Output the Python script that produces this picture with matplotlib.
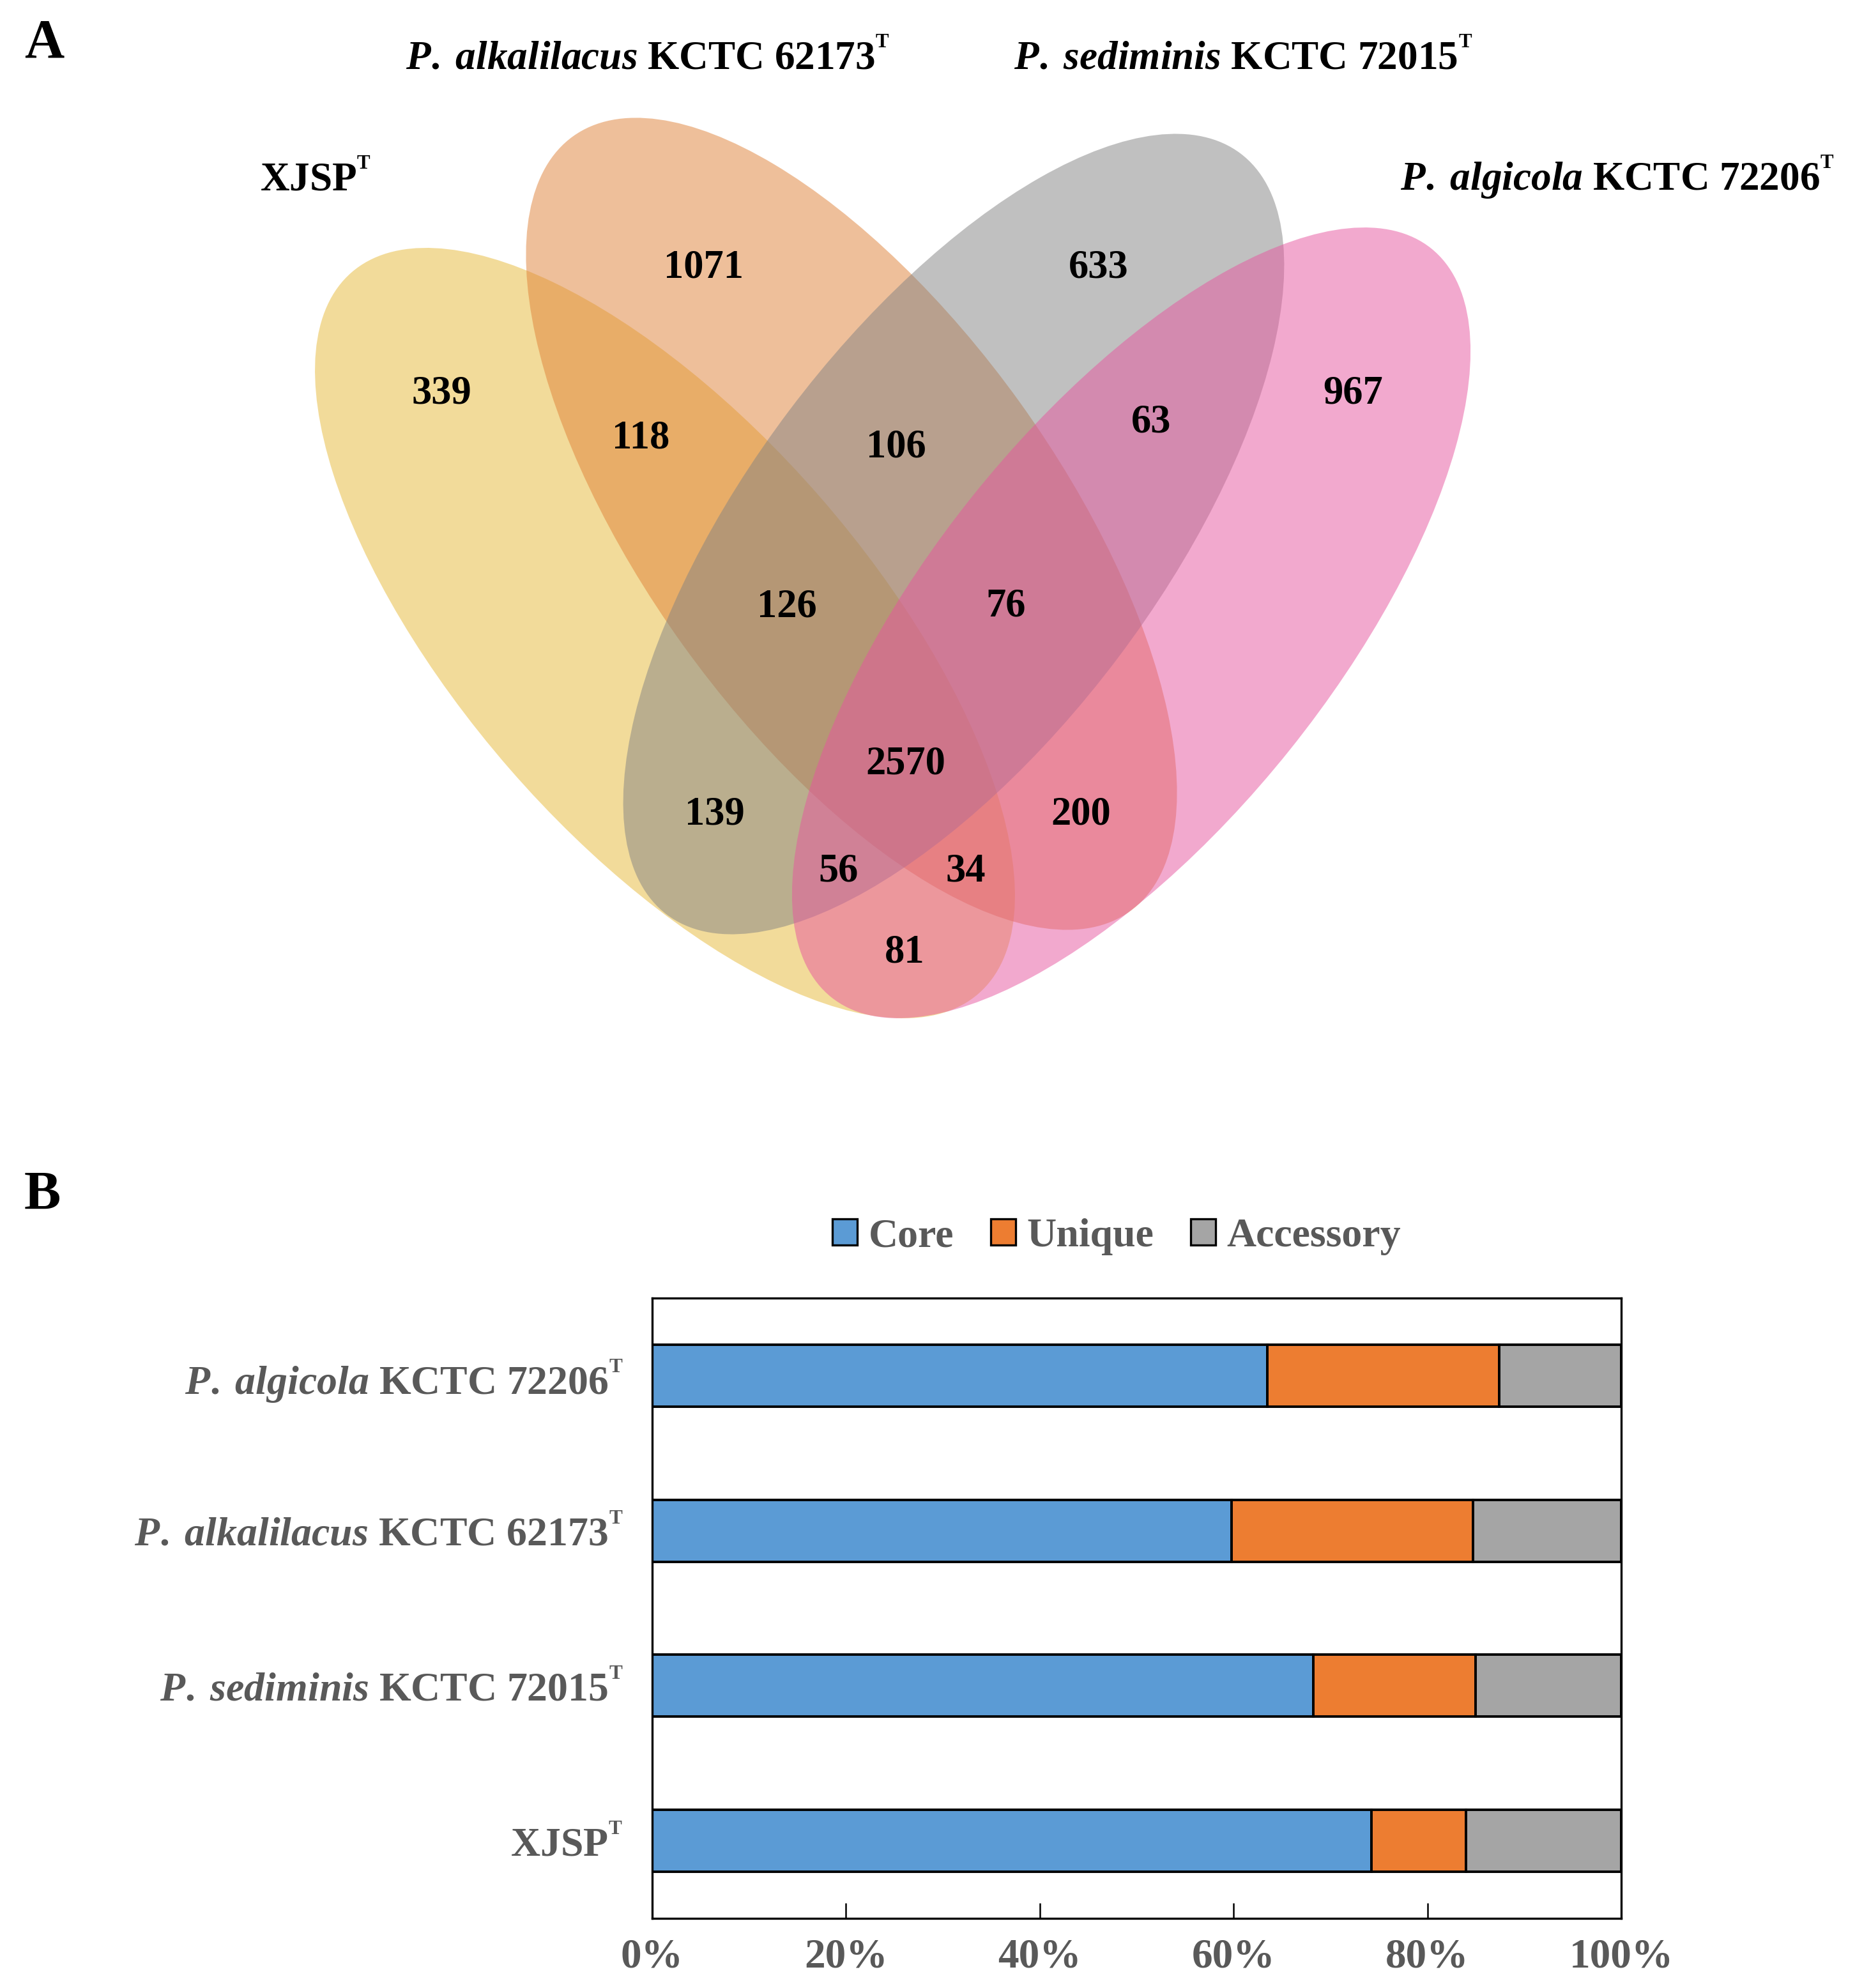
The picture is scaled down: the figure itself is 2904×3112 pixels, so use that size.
import matplotlib
matplotlib.use("Agg")
import numpy as np
from matplotlib import pyplot as plt
from matplotlib.patches import Ellipse, Patch

plt.rcParams["font.family"] = ["Liberation Serif", "DejaVu Serif"]
plt.rcParams["font.weight"] = "bold"
plt.rcParams["mathtext.fontset"] = "custom"
plt.rcParams["mathtext.rm"] = "Liberation Serif:bold"
plt.rcParams["mathtext.it"] = "Liberation Serif:italic:bold"
plt.rcParams["mathtext.bf"] = "Liberation Serif:bold"

SUP_T = r"${}^{{}^{\mathrm{T}}}$"

# ---- data ----
set_labels = ["XJSP" + SUP_T,
              r"$\mathit{P.\;alkalilacus}$ KCTC 62173" + SUP_T,
              r"$\mathit{P.\;sediminis}$ KCTC 72015" + SUP_T,
              r"$\mathit{P.\;algicola}$ KCTC 72206" + SUP_T]
# region counts of the venn (only-X, only-alk, only-sed, only-alg, pairs, triples, all)
venn_counts = [339, 1071, 633, 967, 118, 106, 63, 126, 76, 139, 200, 2570, 56, 34, 81]

strains = ["XJSP" + SUP_T,
           r"$\mathit{P.\;sediminis}$ KCTC 72015" + SUP_T,
           r"$\mathit{P.\;alkalilacus}$ KCTC 62173" + SUP_T,
           r"$\mathit{P.\;algicola}$ KCTC 72206" + SUP_T]
core = [74.2, 68.2, 59.8, 63.5]
unique = [9.8, 16.8, 24.9, 23.9]
accessory = [16.0, 15.0, 15.3, 12.6]
parts = ["Core", "Unique", "Accessory"]

# ---- layout (pixel units of the 2904 x 3112 canvas) ----
W, H = 2904, 3112
fig = plt.figure(figsize=(W / 100, H / 100), dpi=100)

ax = fig.add_axes([0, 0, 1, 1])
ax.set_xlim(0, W)
ax.set_ylim(H, 0)
ax.axis("off")

# ellipses: center x, center y, semi-major, semi-minor, angle (image coords)
ell = [(1041, 991, 748, 323, 49.0),
       (1333, 820, 747, 325, 54.3),
       (1493, 836, 746, 322, -53.0),
       (1771, 975, 751, 318, -51.3)]
ell_colors = ["#E7B937", "#DF8137", "#838383", "#E7559F"]
for (cx, cy, a, b, ang), c in zip(ell, ell_colors):
    ax.add_patch(Ellipse((cx, cy), 2 * a, 2 * b, angle=ang, facecolor=c,
                         edgecolor="none", alpha=0.5))

label_pos = [(407, 298), (635, 108), (1587, 108), (2192, 298)]
for (x, y), s in zip(label_pos, set_labels):
    ax.text(x, y, s, fontsize=45.5, ha="left", va="baseline", color="black")

count_pos = [(691, 609), (1101, 412), (1720, 412), (2118, 609),
             (1003, 679), (1403, 693), (1802, 654), (1232, 943), (1575, 942),
             (1119, 1268), (1692, 1268), (1418, 1189), (1313, 1357), (1512, 1357),
             (1416, 1484)]
for (x, y), n in zip(count_pos, venn_counts):
    ax.text(x, y, str(n), fontsize=45, ha="center", va="center_baseline",
            color="black")

ax.text(38, 89, "A", fontsize=62, ha="left", va="baseline")
ax.text(38, 1893, "B", fontsize=62, ha="left", va="baseline")

# ---- bar chart ----
bx = fig.add_axes([1021 / W, 1 - 3003 / H, 1517 / W, 971 / H])
y = np.arange(len(strains))
bar_colors = ["#5B9BD5", "#ED7D31", "#A5A5A5"]
left = np.zeros(len(strains))
for vals, c, name in zip([core, unique, accessory], bar_colors, parts):
    bx.barh(y, vals, left=left, height=0.4, color=c, edgecolor="black",
            linewidth=2.8, label=name)
    left += np.array(vals)

bx.set_xlim(0, 100)
bx.set_ylim(-0.5, 3.5)
bx.set_yticks(y)
bx.set_yticklabels(strains)
bx.set_xticks(range(0, 101, 20))
bx.set_xticklabels([f"{v}%" for v in range(0, 101, 20)])
bx.tick_params(axis="y", length=0, pad=33, labelsize=46, labelcolor="#595959")
bx.tick_params(axis="x", direction="in", length=17, width=1.8, pad=22,
               labelsize=47, labelcolor="#595959")
for sp in bx.spines.values():
    sp.set_linewidth(2.4)

handles = [Patch(facecolor=c, edgecolor="black", linewidth=2.4) for c in bar_colors]
fig.legend(handles, parts, loc="center", bbox_to_anchor=(1748 / W, 1 - 1936 / H),
           ncol=3, frameon=False, fontsize=46, handlelength=0.62, handleheight=0.62,
           handletextpad=0.27, columnspacing=0.9, labelcolor="#595959")

fig.savefig("out.png", dpi=100)
